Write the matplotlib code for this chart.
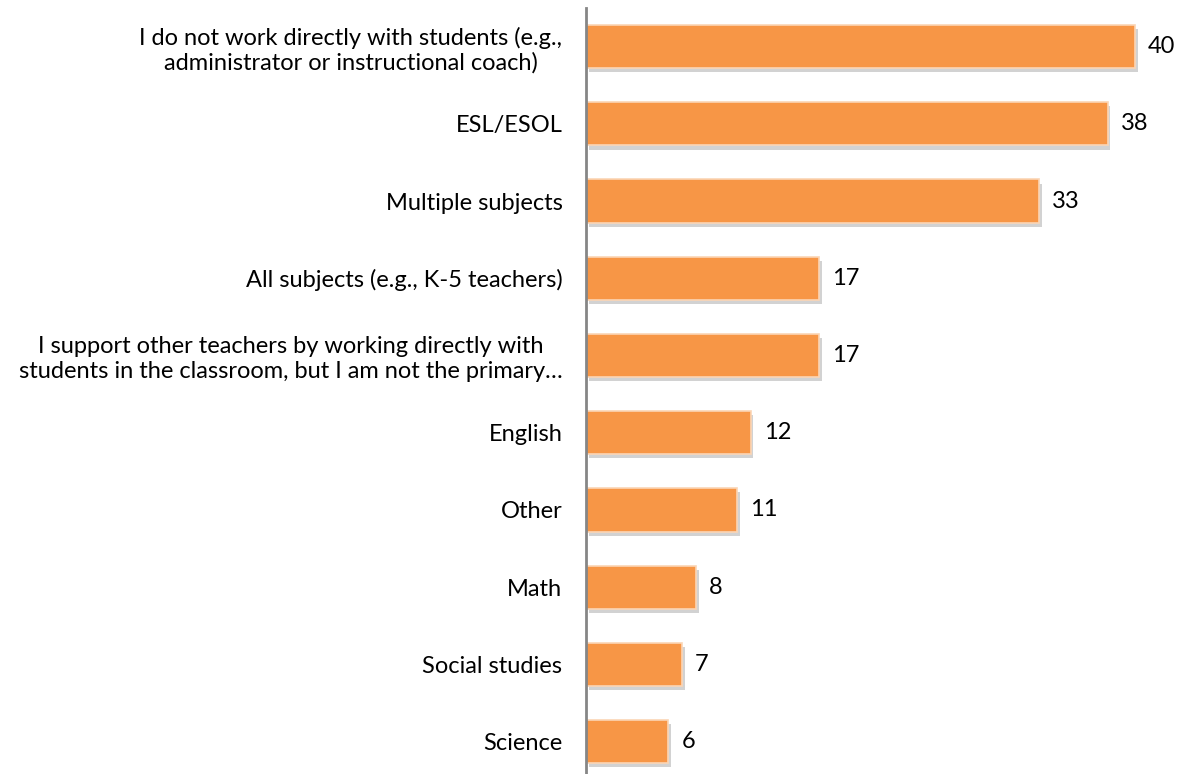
import matplotlib.pyplot as plt
import matplotlib.patheffects as pe

plt.rcParams['font.family'] = ['Lato', 'DejaVu Sans']

labels = [
    "I do not work directly with students (e.g.,\nadministrator or instructional coach)",
    "ESL/ESOL",
    "Multiple subjects",
    "All subjects (e.g., K-5 teachers)",
    "I support other teachers by working directly with\nstudents in the classroom, but I am not the primary\u2026",
    "English",
    "Other",
    "Math",
    "Social studies",
    "Science",
]
counts = [40, 38, 33, 17, 17, 12, 11, 8, 7, 6]

fig = plt.figure(figsize=(11.85, 7.74), dpi=100)
ax = fig.add_axes([586 / 1185, -0.008, 1 - 586 / 1185, 1 - 8 / 774 + 0.008])

ypos = list(range(len(counts)))
bars = ax.barh(ypos, counts, height=0.56, color='#F79646', edgecolor='#FBD5B5', linewidth=1.2)
for b in bars:
    b.set_path_effects([pe.SimplePatchShadow(offset=(2, -3), shadow_rgbFace='#7f7f7f', alpha=0.35), pe.Normal()])

for y, v in zip(ypos, counts):
    ax.text(v + 0.95, y, str(v), va='center', ha='left', fontsize=17, color='black')

ax.set_yticks(ypos)
ax.set_yticklabels(labels, fontsize=17, multialignment='center')
ax.tick_params(axis='y', length=0, pad=17)
ax.set_ylim(len(counts) - 0.5, -0.5)
ax.set_xlim(0, 43.64)
ax.set_xticks([])
for s in ['top', 'right', 'bottom']:
    ax.spines[s].set_visible(False)
ax.spines['left'].set_color('#868686')
ax.spines['left'].set_linewidth(2)

fig.savefig('out.png', dpi=100)
